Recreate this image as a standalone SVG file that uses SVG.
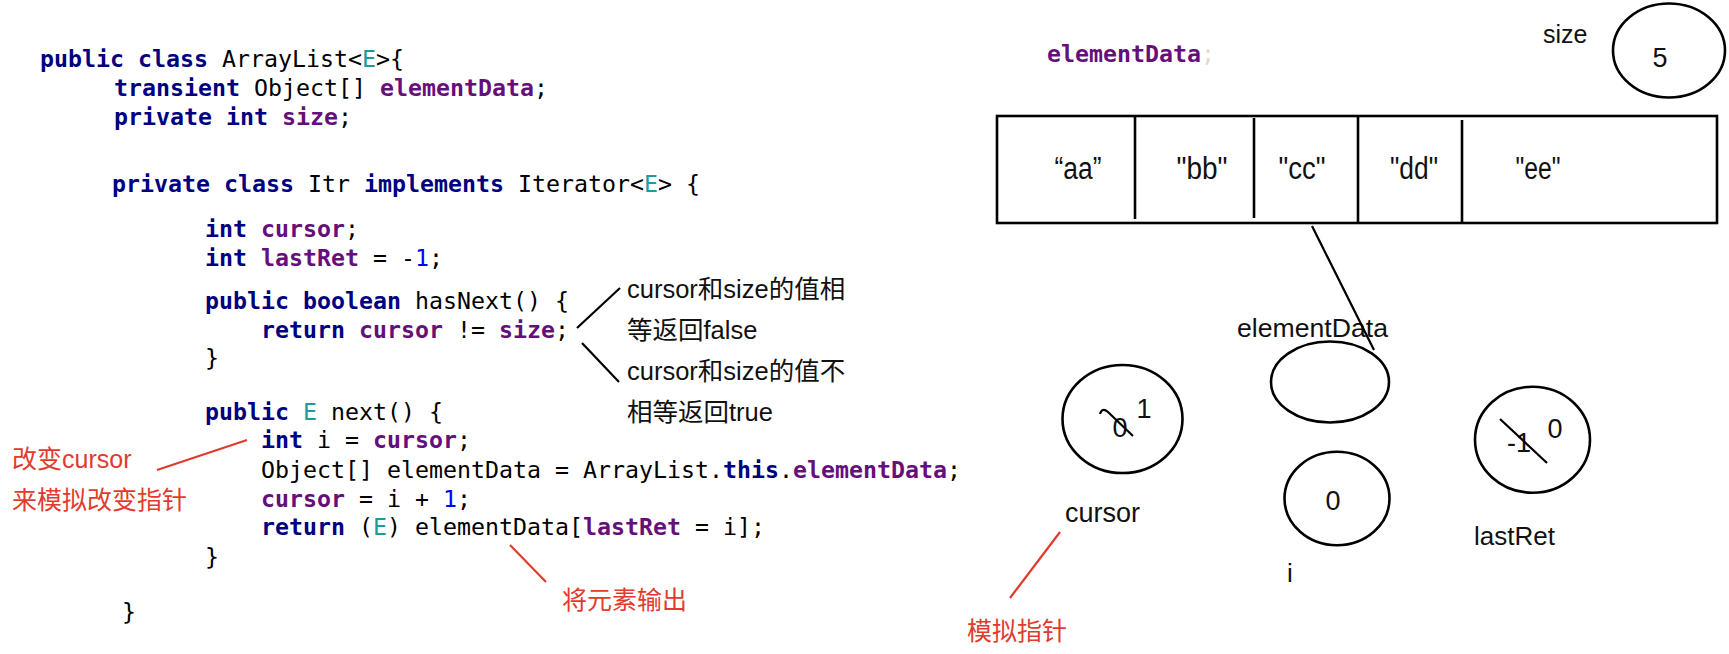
<svg xmlns="http://www.w3.org/2000/svg" width="1729" height="654" viewBox="0 0 1729 654">
<style>
.code{font-family:"DejaVu Sans Mono","Liberation Mono",monospace;font-size:23.25px;fill:#000}
.kw{fill:#000080;font-weight:bold}
.fd{fill:#660e7a;font-weight:bold}
.tp{fill:#20999d}
.num{fill:#0000ff}
.note{font-family:"Liberation Sans","Noto Sans CJK SC",sans-serif;font-size:25.5px;fill:#111}
.red{fill:#e23b2e;font-size:25px}
.lbl{font-family:"Liberation Sans","Noto Sans CJK SC",sans-serif;fill:#111}
.cell{font-size:31px;text-anchor:middle}
.num2{font-size:27px;text-anchor:middle}
.shape{fill:none;stroke:#000;stroke-width:2.6}
.ln{fill:none;stroke:#000;stroke-width:2.2}
.rln{fill:none;stroke:#e23b2e;stroke-width:2.2}
</style>
<rect width="1729" height="654" fill="#fff"/>
<g id="code" class="code" xml:space="preserve">
<text x="40" y="67"><tspan class="kw">public class</tspan> ArrayList&lt;<tspan class="tp">E</tspan>&gt;{</text>
<text x="114" y="96"><tspan class="kw">transient</tspan> Object[] <tspan class="fd">elementData</tspan>;</text>
<text x="114" y="125"><tspan class="kw">private int</tspan> <tspan class="fd">size</tspan>;</text>
<text x="112" y="192"><tspan class="kw">private class</tspan> Itr <tspan class="kw">implements</tspan> Iterator&lt;<tspan class="tp">E</tspan>&gt; {</text>
<text x="205" y="237"><tspan class="kw">int</tspan> <tspan class="fd">cursor</tspan>;</text>
<text x="205" y="266"><tspan class="kw">int</tspan> <tspan class="fd">lastRet</tspan> = -<tspan class="num">1</tspan>;</text>
<text x="205" y="309"><tspan class="kw">public boolean</tspan> hasNext() {</text>
<text x="261" y="338"><tspan class="kw">return</tspan> <tspan class="fd">cursor</tspan> != <tspan class="fd">size</tspan>;</text>
<text x="205" y="366">}</text>
<text x="205" y="420"><tspan class="kw">public</tspan> <tspan class="tp">E</tspan> next() {</text>
<text x="261" y="448"><tspan class="kw">int</tspan> i = <tspan class="fd">cursor</tspan>;</text>
<text x="261" y="478">Object[] elementData = ArrayList.<tspan class="kw">this</tspan>.<tspan class="fd">elementData</tspan>;</text>
<text x="261" y="507"><tspan class="fd">cursor</tspan> = i + <tspan class="num">1</tspan>;</text>
<text x="261" y="535"><tspan class="kw">return</tspan> (<tspan class="tp">E</tspan>) elementData[<tspan class="fd">lastRet</tspan> = i];</text>
<text x="205" y="565">}</text>
<text x="122" y="620">}</text>
</g>
<g id="notes">
<text class="note" x="627" y="298">cursor和size的值相</text>
<text class="note" x="627" y="339">等返回false</text>
<text class="note" x="627" y="380">cursor和size的值不</text>
<text class="note" x="627" y="421">相等返回true</text>
<text class="note red" x="12" y="468">改变cursor</text>
<text class="note red" x="12" y="509">来模拟改变指针</text>
<text class="note red" x="562" y="609">将元素输出</text>
<text class="note red" x="967" y="640">模拟指针</text>
</g>
<g id="array-label">
<text class="code" x="1047" y="62"><tspan class="fd">elementData</tspan><tspan fill="#e2dcc6">;</tspan></text>
</g>
<g id="array">
<rect class="shape" x="997" y="116" width="720" height="107" stroke-width="3"/>
<line class="shape" x1="1135" y1="117" x2="1135" y2="219" stroke-width="3"/>
<line class="shape" x1="1254" y1="118" x2="1254" y2="218" stroke-width="3"/>
<line class="shape" x1="1358" y1="116" x2="1358" y2="223" stroke-width="3"/>
<line class="shape" x1="1462" y1="120" x2="1462" y2="223" stroke-width="3"/>
<g class="lbl cell">
<text x="1078" y="179" textLength="47" lengthAdjust="spacingAndGlyphs">“aa”</text>
<text x="1202" y="179" textLength="51" lengthAdjust="spacingAndGlyphs">"bb"</text>
<text x="1302" y="179" textLength="47" lengthAdjust="spacingAndGlyphs">"cc"</text>
<text x="1414" y="179" textLength="48" lengthAdjust="spacingAndGlyphs">"dd"</text>
<text x="1538" y="179" textLength="45" lengthAdjust="spacingAndGlyphs">"ee"</text>
</g>
</g>
<g id="size">
<text class="lbl" x="1543" y="43" font-size="25">size</text>
<ellipse class="shape" cx="1669" cy="50.5" rx="56" ry="47"/>
<text class="lbl num2" x="1660" y="67" font-size="28">5</text>
</g>
<g id="elementData-node">
<text class="lbl" x="1237" y="337" font-size="26" textLength="151" lengthAdjust="spacingAndGlyphs">elementData</text>
<ellipse class="shape" cx="1330" cy="382" rx="59" ry="40.5"/>
</g>
<g id="cursor-node">
<ellipse class="shape" cx="1122.5" cy="419" rx="60" ry="54"/>
<text class="lbl num2" x="1120" y="437">0</text>
<path class="ln" d="M1100 414 Q1102 407 1108 412 L1133 436"/>
<text class="lbl num2" x="1144" y="418">1</text>
<text class="lbl" x="1065" y="522" font-size="27">cursor</text>
</g>
<g id="i-node">
<ellipse class="shape" cx="1337" cy="498.5" rx="52.5" ry="46.7"/>
<text class="lbl num2" x="1333" y="510">0</text>
<text class="lbl" x="1290" y="582" font-size="26" text-anchor="middle">i</text>
</g>
<g id="lastRet-node">
<ellipse class="shape" cx="1532.5" cy="439.7" rx="57.5" ry="53"/>
<text class="lbl num2" x="1519" y="452" font-size="26">-1</text>
<line class="ln" x1="1500" y1="419" x2="1547" y2="463"/>
<text class="lbl num2" x="1555" y="438" font-size="26">0</text>
<text class="lbl" x="1474" y="545" font-size="26">lastRet</text>
</g>
<g id="connectors">
<line class="ln" x1="1312" y1="226" x2="1374" y2="350" stroke-width="2"/>
<line class="ln" x1="577" y1="328" x2="620" y2="288" stroke-width="2.4"/>
<line class="ln" x1="582" y1="343" x2="619" y2="382" stroke-width="2.4"/>
<line class="rln" x1="157" y1="470" x2="247" y2="440"/>
<line class="rln" x1="510" y1="545" x2="546" y2="582"/>
<line class="rln" x1="1060" y1="532" x2="1010" y2="598"/>
</g>
</svg>
